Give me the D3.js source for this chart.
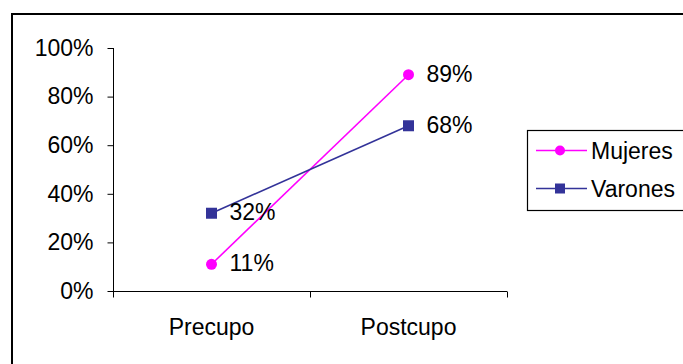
<!DOCTYPE html>
<html>
<head>
<meta charset="utf-8">
<script src="https://cdn.jsdelivr.net/npm/d3@7"></script>
<style>
  html, body { margin: 0; padding: 0; background: #fff; }
  svg { display: block; font-family: "Liberation Sans", Arial, sans-serif; }
</style>
</head>
<body>
<svg id="chart" width="683" height="364"></svg>
<script>
// Share by period, per group
const categories = ["Precupo", "Postcupo"];
const mujeres = [0.11, 0.89];
const varones = [0.32, 0.68];
const yTicks = [0, 0.2, 0.4, 0.6, 0.8, 1.0];
const seriesNames = ["Mujeres", "Varones"];
const seriesColors = ["#FF00FF", "#333399"];

const FS = 23;
const svg = d3.select("#chart");

// outer frame
svg.append("rect")
  .attr("x", 12).attr("y", 14)
  .attr("width", 690).attr("height", 360)
  .attr("fill", "#fff").attr("stroke", "#000").attr("stroke-width", 2);

const plot = { left: 113, right: 507, top: 48, bottom: 291 };

const x = d3.scaleBand().domain(categories).range([plot.left, plot.right]).padding(0);
const y = d3.scaleLinear().domain([0, 1]).range([plot.bottom, plot.top]);

// y axis
const yAxis = d3.axisLeft(y).tickValues(yTicks).tickFormat(d3.format(".0%")).tickSize(6).tickPadding(14);
const gy = svg.append("g").attr("transform", `translate(${plot.left + 0.5},0)`).call(yAxis);
gy.select(".domain").attr("stroke", "#000").attr("d", `M0,${plot.top}V${plot.bottom}`);
gy.selectAll(".tick line").attr("stroke", "#000");
gy.selectAll(".tick text").attr("font-size", FS).attr("fill", "#000")
  .attr("font-family", "Liberation Sans, Arial, sans-serif");

// x axis with ticks between categories
const gx = svg.append("g").attr("transform", `translate(0,${plot.bottom + 0.5})`);
gx.append("line").attr("x1", plot.left).attr("x2", plot.right).attr("stroke", "#000");
const bounds = [plot.left, ...categories.slice(1).map(c => x(c)), plot.right];
gx.selectAll("line.tk").data(bounds).join("line").attr("class", "tk")
  .attr("x1", d => d + 0.5).attr("x2", d => d + 0.5).attr("y1", 0).attr("y2", 6).attr("stroke", "#000");
gx.selectAll("text").data(categories).join("text")
  .attr("x", d => x(d) + x.bandwidth() / 2)
  .attr("y", 43)
  .attr("text-anchor", "middle")
  .attr("font-size", FS)
  .attr("fill", "#000")
  .text(d => d);

const cx = c => x(c) + x.bandwidth() / 2;
const line = d3.line().x((d, i) => cx(categories[i])).y(d => y(d));

const data = [mujeres, varones];

// lines
data.forEach((vals, si) => {
  svg.append("path").datum(vals)
    .attr("d", line)
    .attr("fill", "none")
    .attr("stroke", seriesColors[si])
    .attr("stroke-width", 1.6);
});

// markers
svg.selectAll("circle.m").data(mujeres).join("circle").attr("class", "m")
  .attr("cx", (d, i) => cx(categories[i])).attr("cy", d => y(d))
  .attr("r", 5.5).attr("fill", seriesColors[0]);
svg.selectAll("rect.v").data(varones).join("rect").attr("class", "v")
  .attr("x", (d, i) => cx(categories[i]) - 5.5).attr("y", d => y(d) - 5.5)
  .attr("width", 11).attr("height", 11).attr("fill", seriesColors[1]);

// value labels
data.forEach(vals => {
  svg.append("g").selectAll("text").data(vals).join("text")
    .attr("x", (d, i) => cx(categories[i]) + 18)
    .attr("y", d => y(d) + 7)
    .attr("font-size", FS)
    .attr("fill", "#000")
    .text(d => d3.format(".0%")(d));
});

// legend
const lg = svg.append("g");
lg.append("rect").attr("x", 527.5).attr("y", 130.5).attr("width", 170).attr("height", 80)
  .attr("fill", "#fff").attr("stroke", "#000").attr("stroke-width", 1.2);
seriesNames.forEach((name, i) => {
  const ly = 150.5 + i * 38;
  lg.append("line").attr("x1", 536).attr("x2", 587).attr("y1", ly).attr("y2", ly)
    .attr("stroke", seriesColors[i]).attr("stroke-width", 1.6);
  if (i === 0) {
    lg.append("circle").attr("cx", 560).attr("cy", ly).attr("r", 5).attr("fill", seriesColors[i]);
  } else {
    lg.append("rect").attr("x", 555).attr("y", ly - 5).attr("width", 10).attr("height", 10).attr("fill", seriesColors[i]);
  }
  lg.append("text").attr("x", 591).attr("y", ly + 8).attr("font-size", FS).attr("fill", "#000").text(name);
});
</script>
</body>
</html>
